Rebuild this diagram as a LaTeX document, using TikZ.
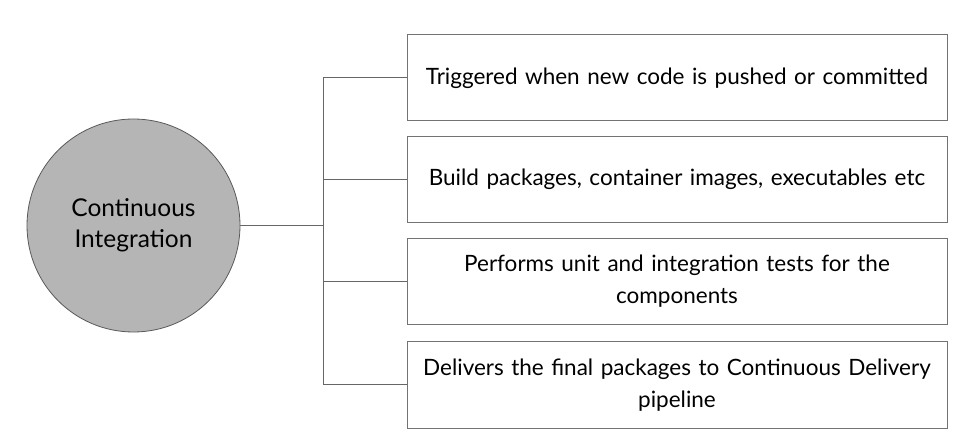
\documentclass[tikz,border=0pt]{standalone}
\usepackage{fontspec}
\setmainfont{Lato}
\begin{document}
\begin{tikzpicture}[x=1pt,y=-1pt,
  line/.style={draw=black!60,line width=1pt},
  itembox/.style={draw=black!55,line width=1pt,fill=white,minimum width=540pt,minimum height=86pt,text width=530pt,align=center,inner sep=0pt,font=\fontsize{22.5}{32}\selectfont},
  hub/.style={circle,draw=black!65,line width=0.8pt,fill=black!29,minimum size=213pt,align=center,inner sep=0pt,font=\fontsize{24.5}{31}\selectfont}]
\useasboundingbox (0,0) rectangle (969,443);
\node[hub] (c) at (133.5,225.5) {Continuous\\Integration};
\node[itembox] (b1) at (677,78) {Triggered when new code is pushed or committed};
\node[itembox] (b2) at (677,179.5) {Build packages, container images, executables etc};
\node[itembox] (b3) at (677,281.5) {Performs unit and integration tests for the\\components};
\node[itembox] (b4) at (677,385) {Delivers the final packages to Continuous Delivery\\pipeline};
\coordinate (j) at (323,225.5);
\draw[line] (c.east) -- (j);
\draw[line] (b1.west) -| (j);
\draw[line] (b2.west) -| (j);
\draw[line] (b3.west) -| (j);
\draw[line] (b4.west) -| (j);
\end{tikzpicture}
\end{document}
